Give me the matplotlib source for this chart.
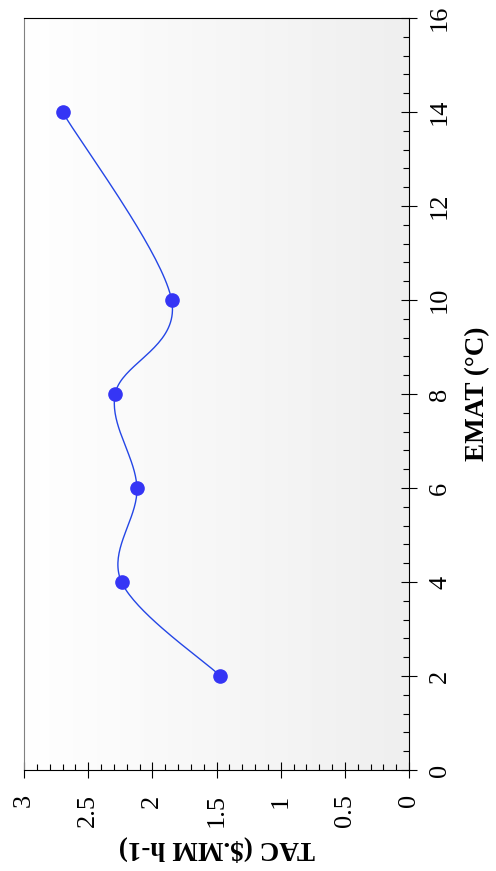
import numpy as np
import matplotlib
matplotlib.use("Agg")
import matplotlib.pyplot as plt
from matplotlib.colors import LinearSegmentedColormap

# EMAT (°C) vs TAC ($.MM h-1), figure drawn rotated to portrait
emat = [2, 4, 6, 8, 10, 14]
tac = [1.47, 2.24, 2.12, 2.29, 1.85, 2.70]


def smooth_line(x, y, steps=40):
    """Catmull-Rom style bezier through the points (like a 'smoothed line')"""
    p = np.column_stack([x, y]).astype(float)
    ext = np.vstack([p[0], p, p[-1]])
    t = np.linspace(0, 1, steps)[:, None]
    out = []
    for i in range(len(p) - 1):
        b0 = ext[i + 1]
        b3 = ext[i + 2]
        b1 = b0 + (ext[i + 2] - ext[i]) / 6
        b2 = b3 - (ext[i + 3] - ext[i + 1]) / 6
        seg = ((1 - t)**3 * b0 + 3 * (1 - t)**2 * t * b1
               + 3 * (1 - t) * t**2 * b2 + t**3 * b3)
        out.append(seg if i == 0 else seg[1:])
    out = np.vstack(out)
    return out[:, 0], out[:, 1]


plt.rcParams['font.family'] = ['Liberation Serif', 'DejaVu Serif']

fig = plt.figure(figsize=(4.96, 8.71), dpi=100)
ax = fig.add_axes([24 / 496, 1 - 770 / 871, 385 / 496, 752 / 871])

# background gradient, white to light grey
grad = np.linspace(0, 1, 256).reshape(1, -1)
cmap = LinearSegmentedColormap.from_list('bg', ['#ffffff', '#efefef'])
ax.imshow(grad, extent=[0, 1, 0, 1], transform=ax.transAxes, aspect='auto',
          cmap=cmap, zorder=0)

sx, sy = smooth_line(tac, emat)
ax.plot(sx, sy, color='#2446e6', lw=1.0, zorder=2)
ax.plot(tac, emat, 'o', color='#3535f5', markersize=9.5, zorder=3)

ax.set_xlim(3, 0)
ax.set_ylim(0, 16)
ax.set_xticks(np.arange(0, 3.01, 0.5))
ax.set_xticklabels(['0', '0.5', '1', '1.5', '2', '2.5', '3'])
ax.set_xticks(np.arange(0, 3.001, 0.1), minor=True)
ax.set_yticks(np.arange(0, 17, 2))
ax.set_yticks(np.arange(0, 16.01, 0.4), minor=True)

ax.yaxis.tick_right()
ax.yaxis.set_label_position('right')
ax.tick_params(which='major', direction='inout', length=11, width=0.8,
               labelsize=19)
ax.tick_params(which='minor', direction='in', length=4.5, width=0.8)
ax.tick_params(axis='x', which='major', labelrotation=90, pad=12)
ax.tick_params(axis='y', which='major', labelrotation=90, pad=9)
for lab in ax.get_yticklabels():
    lab.set_va('center')

ax.spines['left'].set_color('#808080')
for s in ['top', 'right', 'bottom']:
    ax.spines[s].set_color('black')

ax.set_xlabel('TAC ($.MM h-1)', fontsize=19.5, fontweight='bold', rotation=180,
              labelpad=6)
ax.set_ylabel('EMAT (°C)', fontsize=19.5, fontweight='bold', rotation=90,
              labelpad=10)

fig.savefig('out.png', dpi=100)
